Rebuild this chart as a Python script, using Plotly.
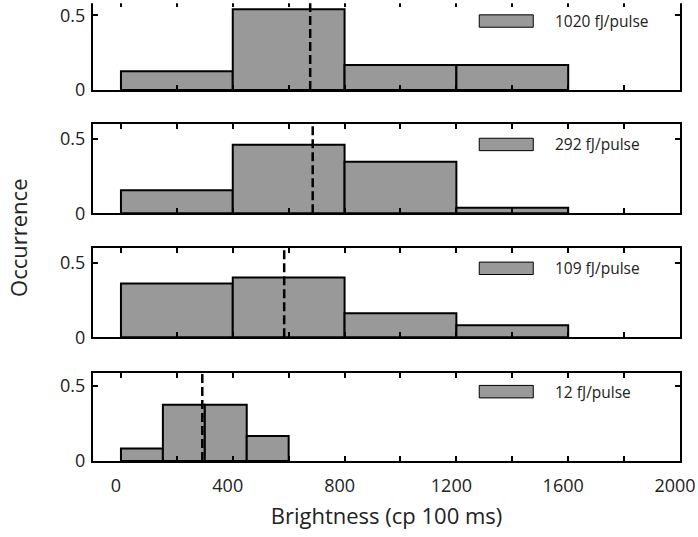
import plotly.graph_objects as go

# ---------------- data ----------------
panel_labels = ["1020 fJ/pulse", "292 fJ/pulse", "109 fJ/pulse", "12 fJ/pulse"]
edges_wide = [0, 400, 800, 1200, 1600]
edges_narrow = [0, 150, 300, 450, 600]
occ_1020 = [0.125, 0.54, 0.167, 0.167]
occ_292 = [0.154, 0.46, 0.346, 0.038]
occ_109 = [0.36, 0.40, 0.16, 0.08]
occ_12 = [0.083, 0.375, 0.375, 0.167]
mean_brightness = [677, 686, 584, 291]
x_tick_vals = [0, 200, 400, 600, 800, 1000, 1200, 1400, 1600, 1800, 2000]
x_tick_text = ["0", "", "400", "", "800", "", "1200", "", "1600", "", "2000"]
y_tick_vals = [0, 0.5]
y_tick_text = ["0", "0.5"]

panel_edges = [edges_wide, edges_wide, edges_wide, edges_narrow]
panel_occ = [occ_1020, occ_292, occ_109, occ_12]

# ---------------- layout geometry ----------------
y_domains = [[0.8085, 1.0], [0.5395, 0.7347], [0.2696, 0.4636], [0.0, 0.1915]]
y_tops = [0.589, 0.600, 0.596, 0.585]

FONT = "Open Sans"
TXT = "#222222"

fig = go.Figure()
layout = dict(
    width=698, height=537,
    margin=dict(l=93, r=18, t=0, b=76),
    plot_bgcolor="white", paper_bgcolor="white",
    showlegend=False,
    font=dict(family=FONT, size=18, color=TXT),
)
shapes = []
annotations = []

for i in range(4):
    n = i + 1
    xa = "x" if n == 1 else f"x{n}"
    ya = "y" if n == 1 else f"y{n}"
    edges = panel_edges[i]
    occ = panel_occ[i]
    centers = [(edges[k] + edges[k + 1]) / 2 for k in range(len(occ))]
    widths = [edges[k + 1] - edges[k] for k in range(len(occ))]
    fig.add_trace(go.Bar(
        x=centers, y=occ, width=widths,
        marker=dict(color="#999999", line=dict(color="black", width=2)),
        xaxis=xa, yaxis=ya, name=panel_labels[i], hoverinfo="skip",
    ))
    is_bottom = (i == 3)
    layout["xaxis" if n == 1 else f"xaxis{n}"] = dict(
        domain=[0, 1], anchor=ya, range=[-100, 2000],
        showline=True, linecolor="black", linewidth=2, mirror="ticks",
        ticks="inside", ticklen=5, tickwidth=1.5, tickcolor="black",
        tickmode="array", tickvals=x_tick_vals,
        ticktext=x_tick_text if is_bottom else [""] * len(x_tick_vals),
        showticklabels=is_bottom,
        tickfont=dict(family=FONT, size=18, color=TXT),
        ticklabelstandoff=7, ticklabelshift=-5,
        showgrid=False, zeroline=False,
        title=dict(text="Brightness (cp 100 ms)" if is_bottom else "",
                   font=dict(family=FONT, size=22, color=TXT), standoff=13),
    )
    layout["yaxis" if n == 1 else f"yaxis{n}"] = dict(
        domain=y_domains[i], anchor=xa, range=[0, y_tops[i]],
        showline=True, linecolor="black", linewidth=2, mirror="ticks",
        ticks="inside", ticklen=5, tickwidth=1.5, tickcolor="black",
        tickmode="array", tickvals=y_tick_vals, ticktext=y_tick_text,
        tickfont=dict(family=FONT, size=18, color=TXT),
        ticklabelstandoff=2,
        showgrid=False, zeroline=False,
    )
    # mean line
    shapes.append(dict(
        type="line", xref=xa, yref=f"{ya} domain",
        x0=mean_brightness[i], x1=mean_brightness[i], y0=0, y1=1,
        line=dict(color="black", width=2.5, dash="9px,4px"), layer="above",
    ))
    # legend swatch
    shapes.append(dict(
        type="rect", xref=f"{xa} domain", yref=ya,
        x0=0.658, x1=0.750, y0=0.42, y1=0.503,
        fillcolor="#999999", line=dict(color="black", width=1),
    ))
    annotations.append(dict(
        xref=f"{xa} domain", yref=ya, x=0.783, y=0.462,
        xanchor="left", yanchor="middle", showarrow=False,
        text=panel_labels[i], font=dict(family=FONT, size=15.5, color=TXT),
    ))

# top panel frame is cut off by the picture edge
shapes.append(dict(
    type="rect", xref="paper", yref="paper",
    x0=-0.02, x1=1.02, y0=1 - 1.3 / 461, y1=1.02,
    fillcolor="white", line=dict(width=0), layer="above",
))

annotations.append(dict(
    xref="paper", yref="paper", x=-0.127, y=0.487,
    xanchor="center", yanchor="middle", showarrow=False, textangle=-90,
    text="Occurrence", font=dict(family=FONT, size=22, color=TXT),
))

layout["shapes"] = shapes
layout["annotations"] = annotations
fig.update_layout(**layout)
fig.write_html("out.html")
